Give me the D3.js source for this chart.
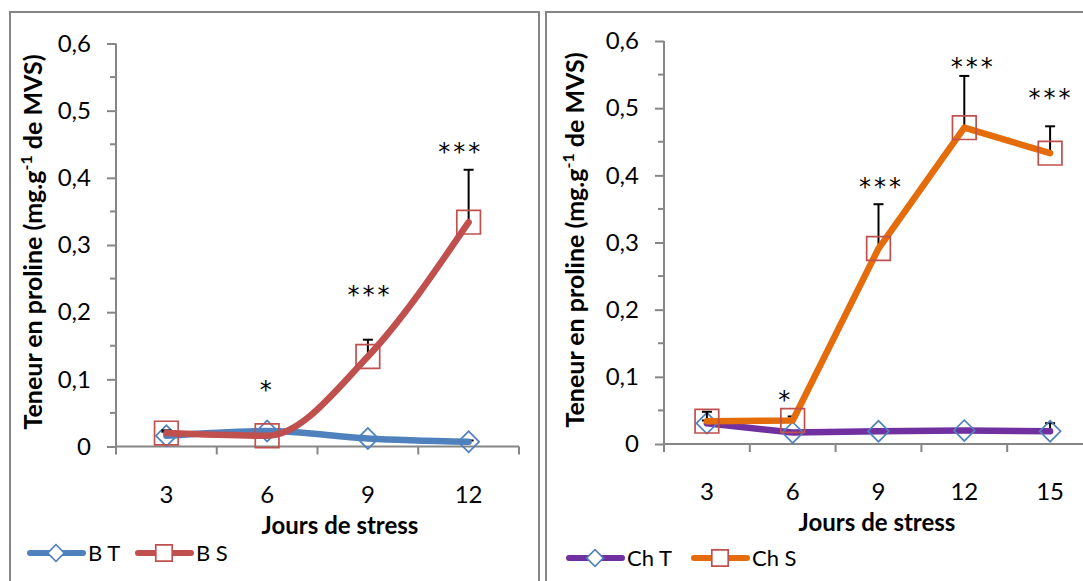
<!DOCTYPE html>
<html>
<head>
<meta charset="utf-8">
<script src="https://cdn.jsdelivr.net/npm/d3@7"></script>
<style>
  html, body { margin: 0; padding: 0; background: #fff; }
  svg { display: block; font-family: Lato, "Noto Sans", sans-serif; }
</style>
</head>
<body>
<svg id="chart" width="1083" height="581"></svg>
<script>
// ---- Data: proline content (mg.g-1 MVS) by days of stress ----
const daysB = ["3", "6", "9", "12"];
const bT = [0.016, 0.023, 0.012, 0.007];
const bTErr = [0.006, 0.002, 0.001, 0.002];
const bS = [0.020, 0.016, 0.134, 0.334];
const bSErr = [0.004, 0.002, 0.025, 0.078];
const bStars = ["", "*", "***", "***"];
const bStarLevel = [null, 0.092, 0.233, 0.446];

const daysCh = ["3", "6", "9", "12", "15"];
const chT = [0.031, 0.017, 0.019, 0.020, 0.019];
const chTErr = [0.004, 0.002, 0.001, 0.002, 0.012];
const chS = [0.034, 0.035, 0.291, 0.471, 0.433];
const chSErr = [0.014, 0.006, 0.066, 0.077, 0.040];
const chStars = ["", "*", "***", "***", "***"];
const chStarLevel = [null, 0.073, 0.390, 0.569, 0.522];

const yTicks = [0, 0.1, 0.2, 0.3, 0.4, 0.5, 0.6];
const yTickLabels = ["0", "0,1", "0,2", "0,3", "0,4", "0,5", "0,6"];

// ---- Styling ----
const AXIS = "#868686";
const BLUE = "#4F81BD", RED = "#C0504D", PURPLE = "#7030A0", ORANGE = "#E46C0A";

const svg = d3.select("#chart");

function panel(cfg) {
  const g = svg.append("g");

  // panel frame
  g.append("rect")
    .attr("x", cfg.frame[0]).attr("y", cfg.frame[1])
    .attr("width", cfg.frame[2]).attr("height", cfg.frame[3])
    .attr("fill", "none").attr("stroke", AXIS).attr("stroke-width", 2);

  const x = d3.scaleBand().domain(cfg.days).range([cfg.x0, cfg.x1]).padding(0);
  const y = d3.scaleLinear().domain([0, 0.6]).range([cfg.y0, cfg.y6]);
  const cx = d => x(d) + x.bandwidth() / 2;

  // y axis: major ticks every 0.1, minor every 0.05
  const yAxis = g.append("g").attr("transform", `translate(${cfg.x0},0)`)
    .call(d3.axisLeft(y).tickValues(yTicks).tickSize(9).tickPadding(16)
      .tickFormat((d, i) => yTickLabels[i]));
  yAxis.select(".domain").attr("stroke", AXIS).attr("stroke-width", 2)
    .attr("d", `M0,${cfg.y0}V${cfg.y6}`);
  yAxis.selectAll(".tick line").attr("stroke", AXIS).attr("stroke-width", 2);
  yAxis.selectAll(".tick text").attr("fill", "#000").style("font-size", "24px")
    .style("font-family", "Lato, sans-serif");
  const minor = d3.range(0.05, 0.6, 0.1);
  g.selectAll(".minor").data(minor).join("line")
    .attr("x1", cfg.x0 - 6).attr("x2", cfg.x0)
    .attr("y1", d => y(d)).attr("y2", d => y(d))
    .attr("stroke", AXIS).attr("stroke-width", 2);

  // x axis with ticks between categories
  g.append("line").attr("x1", cfg.x0).attr("x2", cfg.x1)
    .attr("y1", cfg.y0).attr("y2", cfg.y0).attr("stroke", AXIS).attr("stroke-width", 2);
  const bounds = cfg.days.map(d => x(d)).concat([x(cfg.days[cfg.days.length - 1]) + x.bandwidth()]);
  g.selectAll(".xtick").data(bounds).join("line")
    .attr("x1", d => d).attr("x2", d => d)
    .attr("y1", cfg.y0).attr("y2", cfg.y0 + 8)
    .attr("stroke", AXIS).attr("stroke-width", 2);
  g.selectAll(".xlab").data(cfg.days).join("text")
    .attr("x", d => cx(d)).attr("y", cfg.y0 + 56)
    .attr("text-anchor", "middle").style("font-size", "24px").attr("fill", "#000")
    .text(d => d);

  // axis titles
  g.append("text").attr("x", cfg.xTitleX).attr("y", cfg.y0 + 87)
    .attr("text-anchor", "middle").style("font-size", "24px").style("font-weight", "bold")
    .text("Jours de stress");
  const yt = g.append("text")
    .attr("transform", `translate(${cfg.yTitleX},${cfg.yTitleY}) rotate(-90)`)
    .attr("text-anchor", "middle").style("font-size", "25px").style("font-weight", "bold");
  yt.append("tspan").text("Teneur en proline (mg.g");
  yt.append("tspan").attr("dy", -10).style("font-size", "16px").text("-1");
  yt.append("tspan").attr("dy", 10).text(" de MVS)");

  const line = d3.line().x(d => cx(d.day)).y(d => y(d.v)).curve(cfg.curve);

  function series(vals, errs, color, marker, mColor) {
    const pts = cfg.days.map((day, i) => ({ day, v: vals[i], e: errs[i] }));
    // error bars (positive direction)
    const eb = g.append("g");
    pts.forEach(p => {
      eb.append("line").attr("x1", cx(p.day)).attr("x2", cx(p.day))
        .attr("y1", y(p.v)).attr("y2", y(p.v + p.e)).attr("stroke", "#000").attr("stroke-width", 2);
      eb.append("line").attr("x1", cx(p.day) - 5).attr("x2", cx(p.day) + 5)
        .attr("y1", y(p.v + p.e)).attr("y2", y(p.v + p.e)).attr("stroke", "#000").attr("stroke-width", 2);
    });
    g.append("path").datum(pts).attr("d", line).attr("fill", "none")
      .attr("stroke", color).attr("stroke-width", 6.5)
      .attr("stroke-linecap", "round").attr("stroke-linejoin", "round");
    const sym = d3.symbol().type(d3.symbolSquare)
      .size(marker === "diamond" ? 220 : 560);
    g.selectAll(null).data(pts).join("path")
      .attr("d", sym)
      .attr("transform", p => `translate(${cx(p.day)},${y(p.v)})` + (marker === "diamond" ? " rotate(45)" : ""))
      .attr("fill", "none").attr("stroke", mColor).attr("stroke-width", 1.7);
  }

  series(cfg.tVals, cfg.tErr, cfg.tColor, "diamond", BLUE);
  series(cfg.sVals, cfg.sErr, cfg.sColor, "square", RED);

  // significance marks
  cfg.days.forEach((day, i) => {
    if (!cfg.stars[i]) return;
    g.append("text").attr("x", cx(day) + cfg.starShift[i]).attr("y", y(cfg.starLevel[i]) + 13)
      .attr("text-anchor", "middle").style("font-family", "'DejaVu Sans', sans-serif")
      .style("font-size", "24px").style("letter-spacing", "3px")
      .attr("fill", "#000").text(cfg.stars[i]);
  });

  // legend
  const lg = g.append("g").attr("transform", `translate(${cfg.legendX},${cfg.legendY})`);
  const items = [
    { label: cfg.tName, color: cfg.tColor, marker: "diamond", mColor: BLUE, w: cfg.legendW[0] },
    { label: cfg.sName, color: cfg.sColor, marker: "square", mColor: RED, w: cfg.legendW[1] }
  ];
  let off = 0;
  items.forEach(it => {
    lg.append("line").attr("x1", off).attr("x2", off + 53).attr("y1", 0).attr("y2", 0)
      .attr("stroke", it.color).attr("stroke-width", 6).attr("stroke-linecap", "round");
    lg.append("path")
      .attr("d", d3.symbol().type(d3.symbolSquare).size(it.marker === "diamond" ? 140 : 270))
      .attr("transform", `translate(${off + 26},0)` + (it.marker === "diamond" ? " rotate(45)" : ""))
      .attr("fill", "#fff").attr("stroke", it.mColor).attr("stroke-width", 1.7);
    lg.append("text").attr("x", off + 58).attr("y", 8).style("font-size", "22px").attr("fill", "#000")
      .text(it.label);
    off += it.w;
  });
}

panel({
  frame: [10, 12, 529, 600],
  days: daysB, x0: 116, x1: 519, y0: 446.5, y6: 43.5,
  tVals: bT, tErr: bTErr, sVals: bS, sErr: bSErr,
  tColor: BLUE, sColor: RED, tName: "B T", sName: "B S",
  stars: bStars, starLevel: bStarLevel, starShift: [0, 0, 2, -8],
  xTitleX: 340, yTitleX: 42, yTitleY: 242,
  legendX: 30, legendY: 553, legendW: [108, 110],
  curve: d3.curveMonotoneX
});

panel({
  frame: [546, 12, 600, 600],
  days: daysCh, x0: 664, x1: 1093, y0: 444, y6: 41,
  tVals: chT, tErr: chTErr, sVals: chS, sErr: chSErr,
  tColor: PURPLE, sColor: ORANGE, tName: "Ch T", sName: "Ch S",
  stars: chStars, starLevel: chStarLevel, starShift: [0, -7, 3, 9, 1],
  xTitleX: 877, yTitleX: 584, yTitleY: 240,
  legendX: 569, legendY: 558, legendW: [125, 110],
  curve: d3.curveLinear
});
</script>
</body>
</html>
